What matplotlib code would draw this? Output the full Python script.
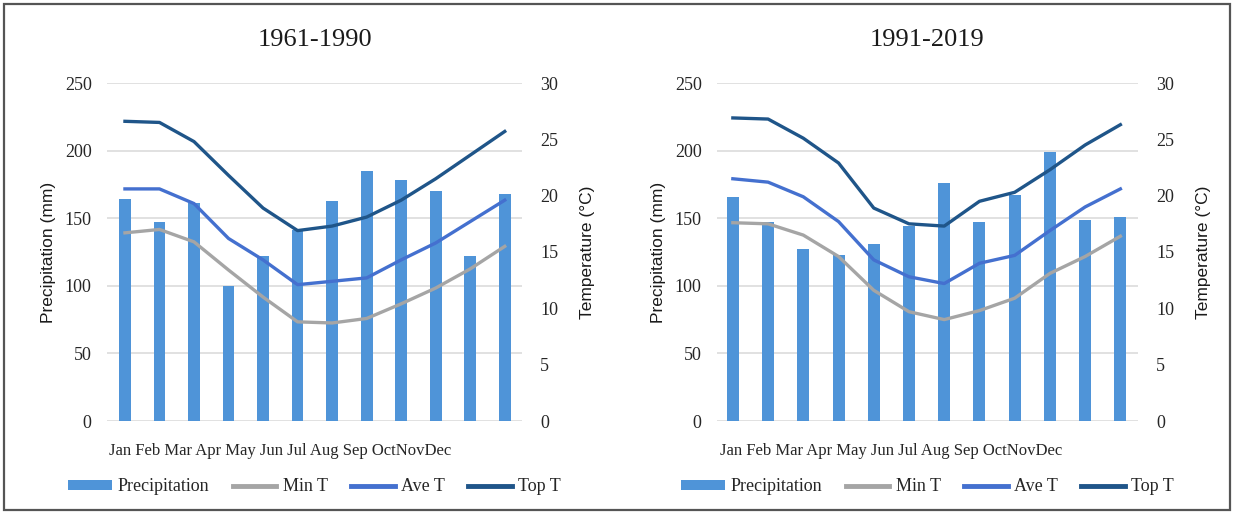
import matplotlib
matplotlib.use("Agg")
import matplotlib.pyplot as plt
import numpy as np
from matplotlib.patches import Rectangle

# --- data ---
months = ['Jan', 'Feb', 'Mar', 'Apr', 'May', 'Jun', 'Jul', 'Aug', 'Sep', 'Oct', 'Nov', 'Dec']

precip_1961 = [164, 147, 161, 100, 122, 141, 163, 185, 178, 170, 122, 168]
min_t_1961 = [16.7, 17.0, 15.9, 13.4, 11.0, 8.8, 8.7, 9.1, 10.4, 11.8, 13.5, 15.5]
ave_t_1961 = [20.6, 20.6, 19.3, 16.2, 14.3, 12.1, 12.4, 12.7, 14.3, 15.8, 17.7, 19.6]
top_t_1961 = [26.6, 26.5, 24.8, 21.8, 18.9, 16.9, 17.3, 18.1, 19.6, 21.5, 23.6, 25.7]

precip_1991 = [166, 147, 127, 123, 131, 144, 176, 147, 167, 199, 149, 151]
min_t_1991 = [17.6, 17.5, 16.5, 14.6, 11.6, 9.7, 9.0, 9.8, 10.9, 13.1, 14.6, 16.4]
ave_t_1991 = [21.5, 21.2, 19.9, 17.7, 14.3, 12.8, 12.2, 14.0, 14.7, 16.9, 19.0, 20.6]
top_t_1991 = [26.9, 26.8, 25.1, 22.9, 18.9, 17.5, 17.3, 19.5, 20.3, 22.3, 24.5, 26.3]

precip_ticks = [0, 50, 100, 150, 200, 250]
temp_ticks = [0, 5, 10, 15, 20, 25, 30]

BAR_C = '#4F94D8'
MIN_C = '#A5A5A5'
AVE_C = '#4470CF'
TOP_C = '#1F5589'
TXT_C = '#262626'
SERIF = 'Liberation Serif'
SANS = 'Liberation Sans'

W, H = 1239, 514
fig = plt.figure(figsize=(W / 100, H / 100), dpi=100)


def panel(rect, xlim, title, precip, tmin, tave, ttop):
    ax = fig.add_axes(rect)
    x = np.arange(len(months))
    bars = ax.bar(x, precip, width=0.34, color=BAR_C, zorder=2, label='Precipitation')
    ax.set_ylim(0, 250)
    ax.set_xlim(*xlim)
    ax.set_yticks(precip_ticks)
    ax.grid(axis='y', color='#D9D9D9', lw=1.1, zorder=0)
    ax.set_axisbelow(True)
    for s in ax.spines.values():
        s.set_visible(False)
    ax.tick_params(length=0)
    ax.tick_params(axis='y', pad=11, labelsize=13, labelcolor=TXT_C)
    for t in ax.get_yticklabels():
        t.set_fontfamily(SERIF)
    # month names sit as one run of text in the original
    ax.set_xticks([4.5])
    ax.set_xticklabels([' '.join(months[:9]) + ' ' + ''.join(months[9:])],
                       fontfamily=SERIF, fontsize=12, color=TXT_C)
    ax.tick_params(axis='x', pad=16)
    ax.set_ylabel('Precipitation (mm)', fontfamily=SANS, fontsize=12.5,
                  color='#1a1a1a', labelpad=6)

    ax2 = ax.twinx()
    l1, = ax2.plot(x, tmin, color=MIN_C, lw=2.4, label='Min T', zorder=3)
    l2, = ax2.plot(x, tave, color=AVE_C, lw=2.4, label='Ave T', zorder=3)
    l3, = ax2.plot(x, ttop, color=TOP_C, lw=2.4, label='Top T', zorder=3)
    ax2.set_ylim(0, 30)
    ax2.set_yticks(temp_ticks)
    for s in ax2.spines.values():
        s.set_visible(False)
    ax2.tick_params(length=0, pad=13, labelsize=13, labelcolor=TXT_C)
    for t in ax2.get_yticklabels():
        t.set_fontfamily(SERIF)
    ax2.set_ylabel('Temperature (°C)', fontfamily=SANS, fontsize=12.5,
                   color='#1a1a1a', labelpad=16)

    leg = ax.legend([bars, l1, l2, l3], ['Precipitation', 'Min T', 'Ave T', 'Top T'],
                    loc='center', bbox_to_anchor=(0.5, -0.195), ncol=4, frameon=False,
                    prop={'family': SERIF, 'size': 13}, handlelength=2.4,
                    handleheight=0.45, handletextpad=0.35, columnspacing=1.3)
    for t in leg.get_texts():
        t.set_color(TXT_C)
    for h in leg.get_lines():
        h.set_linewidth(3.5)

    cx = rect[0] + rect[2] / 2
    fig.text(cx, 1 - 40 / H, title, ha='center', va='center',
             fontfamily=SERIF, fontsize=19, color='#1a1a1a')
    return ax


bottom = (H - 421) / H
height = 338 / H
panel([107 / W, bottom, 415 / W, height], (-0.52, 11.5), '1961-1990',
      precip_1961, min_t_1961, ave_t_1961, top_t_1961)
panel([717 / W, bottom, 421 / W, height], (-0.45, 11.5), '1991-2019',
      precip_1991, min_t_1991, ave_t_1991, top_t_1991)

fig.add_artist(Rectangle((4 / W, 4 / H), 1226 / W, 506 / H, transform=fig.transFigure,
                         fill=False, edgecolor='#555555', lw=1.6))

fig.savefig('out.png', dpi=100)
